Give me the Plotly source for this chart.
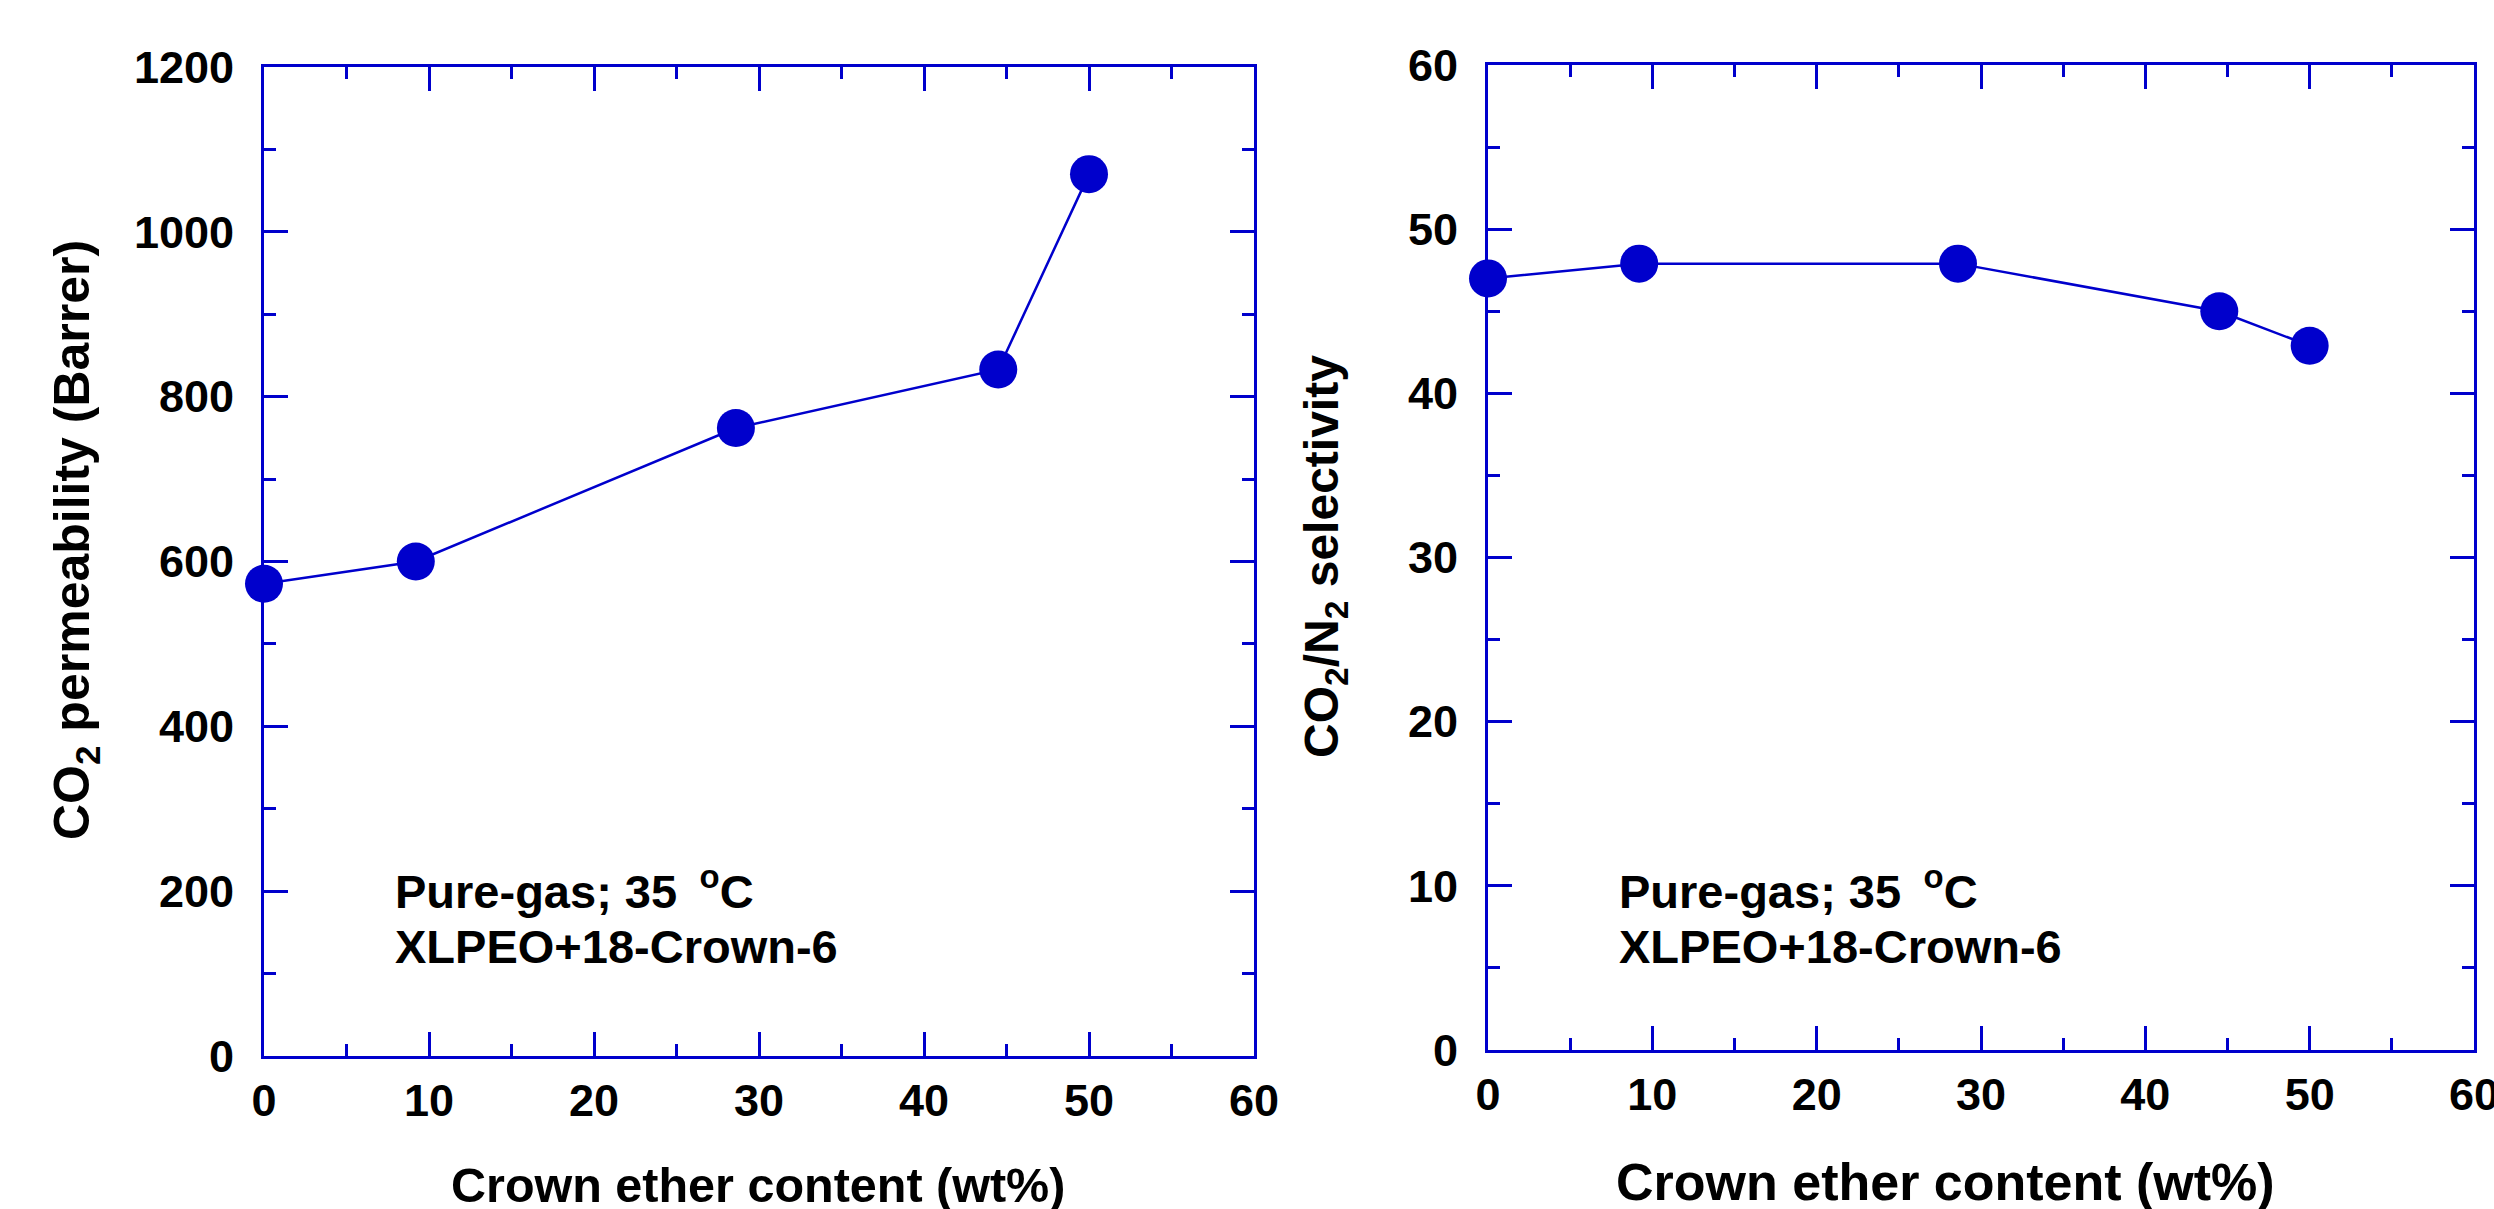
import plotly.graph_objects as go

# ---- data ----
crown_wt = [0, 9.2, 28.6, 44.5, 50]
co2_perm = [573, 600, 762, 833, 1070]
selectivity = [47.0, 47.9, 47.9, 45.0, 42.9]

x_ticks = [0, 10, 20, 30, 40, 50, 60]
perm_ticks = [0, 200, 400, 600, 800, 1000, 1200]
sel_ticks = [0, 10, 20, 30, 40, 50, 60]

W, H = 2494, 1209
BLUE = "#0000CC"
FONT = "Liberation Sans, Arial, sans-serif"

def px_x(p):
    return p / W

def px_y(p):
    return 1 - p / H

fig = go.Figure()

marker = dict(symbol="circle", size=38, color=BLUE, line=dict(width=0))
fig.add_trace(go.Scatter(x=crown_wt, y=co2_perm, mode="lines+markers",
                         line=dict(color=BLUE, width=2.5), marker=marker,
                         cliponaxis=False, xaxis="x", yaxis="y", showlegend=False))
fig.add_trace(go.Scatter(x=crown_wt, y=selectivity, mode="lines+markers",
                         line=dict(color=BLUE, width=2.5), marker=marker,
                         cliponaxis=False, xaxis="x2", yaxis="y2", showlegend=False))

tickfont = dict(family=FONT, size=45, color="black")

def axis_common(tickvals, rng, minor_dtick, domain, anchor, standoff):
    return dict(
        range=rng, tickvals=tickvals, ticktext=["<b>%s</b>" % v for v in tickvals],
        domain=domain, anchor=anchor, automargin=False,
        showline=True, linecolor=BLUE, linewidth=3, mirror="ticks",
        ticks="inside", ticklen=24, tickwidth=3, tickcolor=BLUE,
        minor=dict(dtick=minor_dtick, ticks="inside", ticklen=12, tickwidth=3, tickcolor=BLUE),
        showgrid=False, zeroline=False, tickfont=tickfont,
        ticklabelstandoff=standoff, ticklabeloverflow="allow",
    )

fig.update_layout(
    width=W, height=H, margin=dict(l=0, r=0, t=0, b=0, autoexpand=False),
    paper_bgcolor="white", plot_bgcolor="white",
    xaxis=axis_common(x_ticks, [0, 60], 5, [px_x(264), px_x(1254)], "y", 3),
    yaxis=axis_common(perm_ticks, [0, 1200], 100, [px_y(1056), px_y(67)], "x", 18),
    xaxis2=axis_common(x_ticks, [0, 60], 5, [px_x(1488), px_x(2474)], "y2", 3),
    yaxis2=axis_common(sel_ticks, [0, 60], 5, [px_y(1050), px_y(65)], "x2", 18),
)

ann = []
# x-axis titles
ann.append(dict(text="<b>Crown ether content (wt%)</b>", x=px_x(758), y=px_y(1185),
                xref="paper", yref="paper", showarrow=False,
                font=dict(family=FONT, size=48.5, color="black"),
                xanchor="center", yanchor="middle"))
ann.append(dict(text="<b>Crown ether content (wt%)</b>", x=px_x(1945), y=px_y(1182),
                xref="paper", yref="paper", showarrow=False,
                font=dict(family=FONT, size=52, color="black"),
                xanchor="center", yanchor="middle"))
# y-axis titles
title_font = dict(family=FONT, size=50, color="black")
ann.append(dict(text="<b>CO<sub>2</sub> permeability (Barrer)</b>", x=px_x(75), y=px_y(540),
                xref="paper", yref="paper", showarrow=False, font=title_font,
                textangle=-90, xanchor="center", yanchor="middle"))
ann.append(dict(text="<b>CO<sub>2</sub>/N<sub>2</sub> selectivity</b>", x=px_x(1325), y=px_y(557),
                xref="paper", yref="paper", showarrow=False,
                font=dict(family=FONT, size=48, color="black"),
                textangle=-90, xanchor="center", yanchor="middle"))
# in-plot labels
label_font = dict(family=FONT, size=47, color="black")
for x0 in (393, 1617):
    ann.append(dict(text="<b>Pure-gas; 35 \u2009<sup>o</sup>C</b>", x=px_x(x0), y=px_y(920),
                    xref="paper", yref="paper", showarrow=False, font=label_font,
                    xanchor="left", yanchor="bottom", align="left"))
    ann.append(dict(text="<b>XLPEO+18-Crown-6</b>", x=px_x(x0), y=px_y(975),
                    xref="paper", yref="paper", showarrow=False, font=label_font,
                    xanchor="left", yanchor="bottom", align="left"))
fig.update_layout(annotations=ann)

fig.write_html("out.html")
